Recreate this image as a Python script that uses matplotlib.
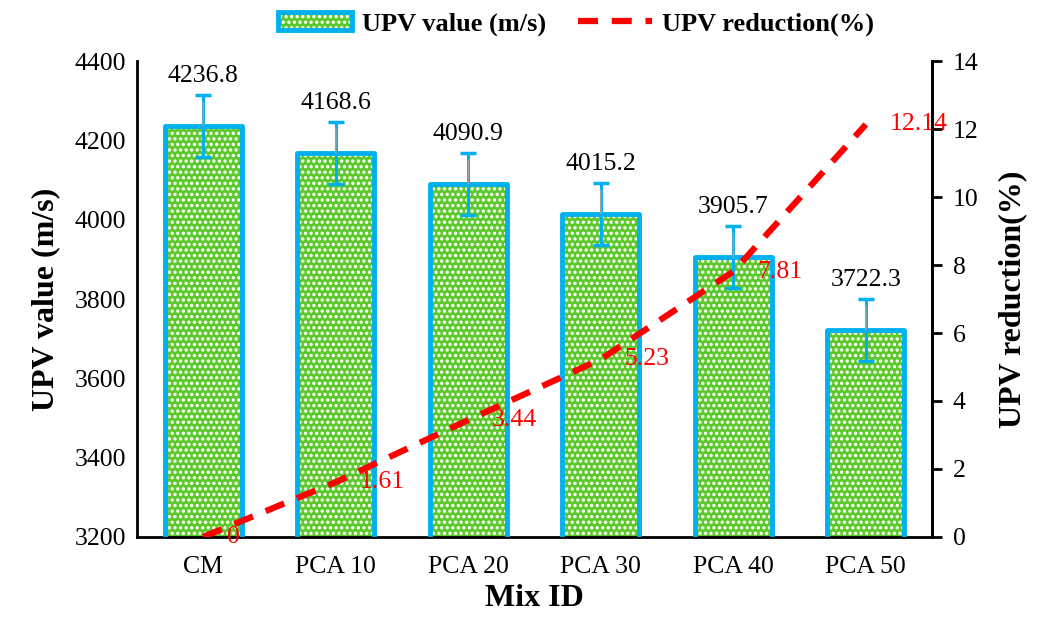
import numpy as np
import matplotlib
matplotlib.use("Agg")
from matplotlib import pyplot as plt
from matplotlib.patches import Patch
from matplotlib.legend_handler import HandlerTuple

plt.rcParams['font.family'] = ['Liberation Serif', 'DejaVu Serif']
plt.rcParams['hatch.linewidth'] = 1.6

mixes = ["CM", "PCA 10", "PCA 20", "PCA 30", "PCA 40", "PCA 50"]
upv = [4236.8, 4168.6, 4090.9, 4015.2, 3905.7, 3722.3]
upv_err = [78, 78, 78, 78, 78, 78]
reduction = [0, 1.61, 3.44, 5.23, 7.81, 12.14]
reduction_labels = ["0", "1.61", "3.44", "5.23", "7.81", "12.14"]

green = '#5DC82C'
blue = '#00B0F0'

fig = plt.figure(figsize=(10.38, 6.25), dpi=100)
ax1 = fig.add_axes([0.132, 0.141, 0.766, 0.761])
x = np.arange(len(mixes))

# hatched fill, then the rounded blue outline on top
ax1.bar(x, upv, width=0.58, bottom=0, color=green, edgecolor='white',
        hatch='...', linewidth=0, zorder=2)
bars = ax1.bar(x, upv, width=0.58, fill=False, edgecolor=blue,
               linewidth=3.5, zorder=3)
for b in bars:
    b.set_joinstyle('round')
ax1.errorbar(x, upv, yerr=upv_err, fmt='none', ecolor=blue, elinewidth=2.2,
             capsize=5.5, capthick=2.5, zorder=4)

for xi, v in zip(x, upv):
    ax1.annotate(f"{v:.1f}", xy=(xi, v), xytext=(0, 36), textcoords='offset points',
                 ha='center', va='center', fontsize=18.5, zorder=5,
                 arrowprops=dict(arrowstyle='-', color='#a0a0a0', lw=1.2,
                                 shrinkA=9, shrinkB=0))

ax1.set_ylim(3200, 4400)
ax1.set_yticks(np.arange(3200, 4401, 200))
ax1.set_xlim(-0.5, len(mixes) - 0.5)
ax1.set_xticks(x)
ax1.set_xticklabels(mixes)
ax1.tick_params(axis='both', length=0, labelsize=18.5, pad=8)
ax1.tick_params(axis='x', pad=14)
ax1.set_ylabel("UPV value (m/s)", fontsize=23, fontweight='bold', labelpad=10)
ax1.set_xlabel("Mix ID", fontsize=23, fontweight='bold', labelpad=4)
ax1.spines['top'].set_visible(False)
for s in ['left', 'bottom', 'right']:
    ax1.spines[s].set_linewidth(2)

ax2 = ax1.twinx()
line, = ax2.plot(x, reduction, color='red', linestyle=(0, (3.2, 2.2)), linewidth=4.5,
                 zorder=6)
for xi, r, lab in zip(x, reduction, reduction_labels):
    ax2.annotate(lab, xy=(xi, r), xytext=(17, 0), textcoords='offset points',
                 ha='left', va='center', fontsize=18.5, color='red')
ax2.set_ylim(0, 14)
ax2.set_yticks(np.arange(0, 15, 2))
ax2.tick_params(axis='y', length=7, width=2, labelsize=18.5, pad=8)
ax2.set_ylabel("UPV reduction(%)", fontsize=23, fontweight='bold', labelpad=14)
ax2.spines['top'].set_visible(False)
ax2.spines['right'].set_linewidth(2)

bar_fill = Patch(facecolor=green, edgecolor='white', hatch='...', linewidth=0)
bar_edge = Patch(facecolor='none', edgecolor=blue, linewidth=3.5)
fig.legend([(bar_fill, bar_edge), line], ['UPV value (m/s)', 'UPV reduction(%)'],
           handler_map={tuple: HandlerTuple(ndivide=1, pad=0)},
           loc='center', bbox_to_anchor=(0.555, 0.962), ncol=2, frameon=False,
           prop={'weight': 'bold', 'size': 19}, handlelength=2.8,
           columnspacing=1.2, handletextpad=0.4)

fig.savefig("out.png", dpi=100)
